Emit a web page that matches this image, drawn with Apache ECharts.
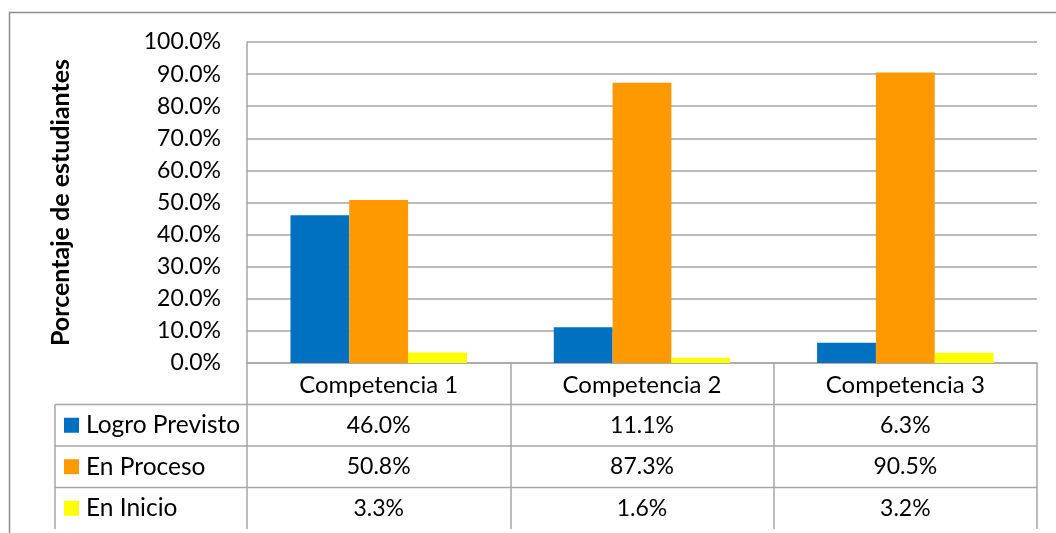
<!DOCTYPE html>
<html><head><meta charset="utf-8">
<script src="https://cdn.jsdelivr.net/npm/echarts@6/dist/echarts.min.js"></script>
<style>html,body{margin:0;padding:0;background:#fff}#c{width:1056px;height:533px}</style>
</head><body><div id="c"></div>
<script>
const categories = ['Competencia 1', 'Competencia 2', 'Competencia 3'];
const seriesNames = ['Logro Previsto', 'En Proceso', 'En Inicio'];
const logroPrevisto = [46.0, 11.1, 6.3];
const enProceso = [50.8, 87.3, 90.5];
const enInicio = [3.3, 1.6, 3.2];
const colors = ['#0070C0', '#FF9900', '#FFFF00'];
const yTitle = 'Porcentaje de estudiantes';

const FONT = 'Lato';
const FS = 23;
const gridLeft = 247, gridRight = 1037, gridTop = 42, gridBottom = 363;
const tableLeft = 55, rowH = 41.5, tableBottom = 529;
const lineColor = '#A6A6A6';

const allData = [logroPrevisto, enProceso, enInicio];
const chart = echarts.init(document.getElementById('c'));

const option = {
  animation: false,
  textStyle: { fontFamily: FONT },
  grid: { left: gridLeft, right: 1056 - gridRight, top: gridTop, bottom: 533 - gridBottom, containLabel: false },
  xAxis: {
    type: 'category', data: categories,
    axisLine: { show: true, lineStyle: { color: lineColor, width: 1.5 } },
    axisTick: { show: true, length: tableBottom - gridBottom, lineStyle: { color: lineColor, width: 1.5 } },
    axisLabel: { fontSize: 24, color: '#000', margin: 10, fontFamily: FONT }
  },
  yAxis: {
    type: 'value', min: 0, max: 100, interval: 10,
    name: yTitle, nameLocation: 'middle', nameGap: 174, nameRotate: 90,
    nameTextStyle: { fontSize: 25, fontWeight: 'bold', color: '#000', fontFamily: FONT },
    axisLine: { show: true, lineStyle: { color: lineColor, width: 1.5 } },
    axisTick: { show: false },
    splitLine: { lineStyle: { color: lineColor, width: 1.5 } },
    axisLabel: { fontSize: FS, color: '#000', margin: 26, fontFamily: FONT, formatter: v => v.toFixed(1) + '%' }
  },
  series: allData.map((d, i) => ({
    name: seriesNames[i], type: 'bar', data: d,
    itemStyle: { color: colors[i] },
    barGap: '0%', barCategoryGap: '33%'
  }))
};
chart.setOption(option);

const g = [];
// outer chart border
g.push({ type: 'rect', shape: { x: 9.5, y: 12.5, width: 1200, height: 700 }, style: { fill: null, stroke: '#8C8C8C', lineWidth: 1.5 }, silent: true });
// table horizontal lines
for (let r = 1; r <= 3; r++) {
  const y = gridBottom + r * rowH;
  g.push({ type: 'line', shape: { x1: tableLeft, y1: y, x2: gridRight, y2: y }, style: { stroke: lineColor, lineWidth: 1.5 }, silent: true });
}
// table left edge
g.push({ type: 'line', shape: { x1: tableLeft, y1: gridBottom + rowH, x2: tableLeft, y2: tableBottom }, style: { stroke: lineColor, lineWidth: 1.5 }, silent: true });
// legend keys inside the data table
seriesNames.forEach((name, i) => {
  const cy = gridBottom + (i + 1) * rowH + rowH / 2;
  g.push({ type: 'rect', shape: { x: 64, y: cy - 7.5, width: 15, height: 15 }, style: { fill: colors[i] }, silent: true });
  g.push({ type: 'text', x: 86, y: cy, style: { text: name, fontSize: 24.5, fontFamily: FONT, fill: '#000', align: 'left', verticalAlign: 'middle' }, silent: true });
});
// table values
allData.forEach((d, i) => {
  d.forEach((v, j) => {
    const x = chart.convertToPixel({ xAxisIndex: 0 }, categories[j]);
    const y = gridBottom + (i + 1) * rowH + rowH / 2;
    g.push({ type: 'text', x: x, y: y, style: { text: v.toFixed(1) + '%', fontSize: FS, fontFamily: FONT, fill: '#000', align: 'center', verticalAlign: 'middle' }, silent: true });
  });
});
chart.setOption({ graphic: g });
</script></body></html>
